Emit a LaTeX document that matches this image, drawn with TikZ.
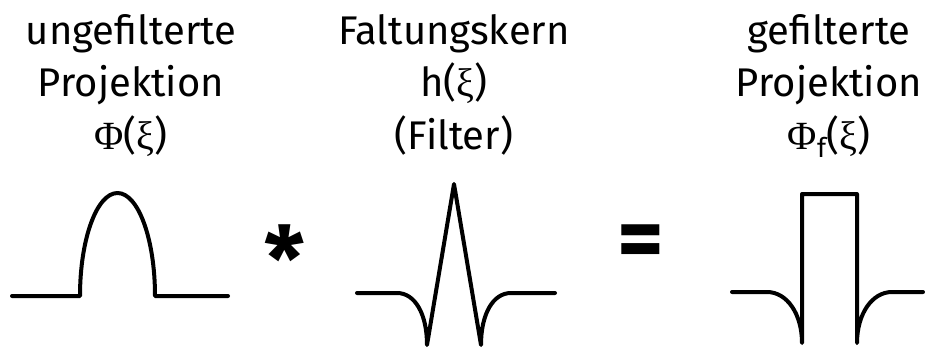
\documentclass[tikz,border=0pt]{standalone}
\usepackage{fontspec}
\setmainfont{Fira Sans}
\newfontfamily\greekfont{Liberation Serif}
\usetikzlibrary{positioning}
\newcommand{\gk}[1]{{\greekfont #1}}
\newcommand{\subf}{\raisebox{-0.22em}{\fontsize{27}{27}\selectfont f}}
\tikzset{
  label/.style={align=center, anchor=base, inner sep=0pt,
                font=\fontsize{40}{52.5}\selectfont},
  oper/.style={anchor=base, inner sep=0pt,
               font=\fontsize{90}{90}\selectfont\bfseries},
  curve/.style={line width=4pt, line join=round, line cap=round},
}
\begin{document}
\begin{tikzpicture}[x=1pt, y=1pt]
  \useasboundingbox (0,0) rectangle (925,349);
  % labels
  \node[label] (l1) at (131,200) {ungefilterte\\Projektion\\\gk{Φ}(\gk{ξ})};
  \node[label] (l2) at (454,200) {Faltungskern\\h(\gk{ξ})\\(Filter)};
  \node[label] (l3) at (829,200) {gefilterte\\Projektion\\\gk{Φ}\subf(\gk{ξ})};
  % operators
  \node[oper] (ast) at (285,58) {*};
  \node[oper] (eq) at (641,80) {=};
  % unfiltered projection
  \draw[curve] (12,53) -- (80,53) arc[start angle=180, end angle=0, x radius=37.5, y radius=103] -- (228,53);
  % kernel
  \draw[curve] (357,56) -- (397,56) .. controls (415,56) and (427,35) .. (427,4)
    -- (454,165) -- (481,4) .. controls (481,35) and (493,56) .. (511,56) -- (555,56);
  % filtered projection
  \draw[curve] (732,57) -- (767,57) .. controls (787,57) and (802,35) .. (802,6)
    -- (802,155) -- (857,155) -- (857,6) .. controls (857,35) and (872,57) .. (892,57) -- (923,57);
\end{tikzpicture}
\end{document}
